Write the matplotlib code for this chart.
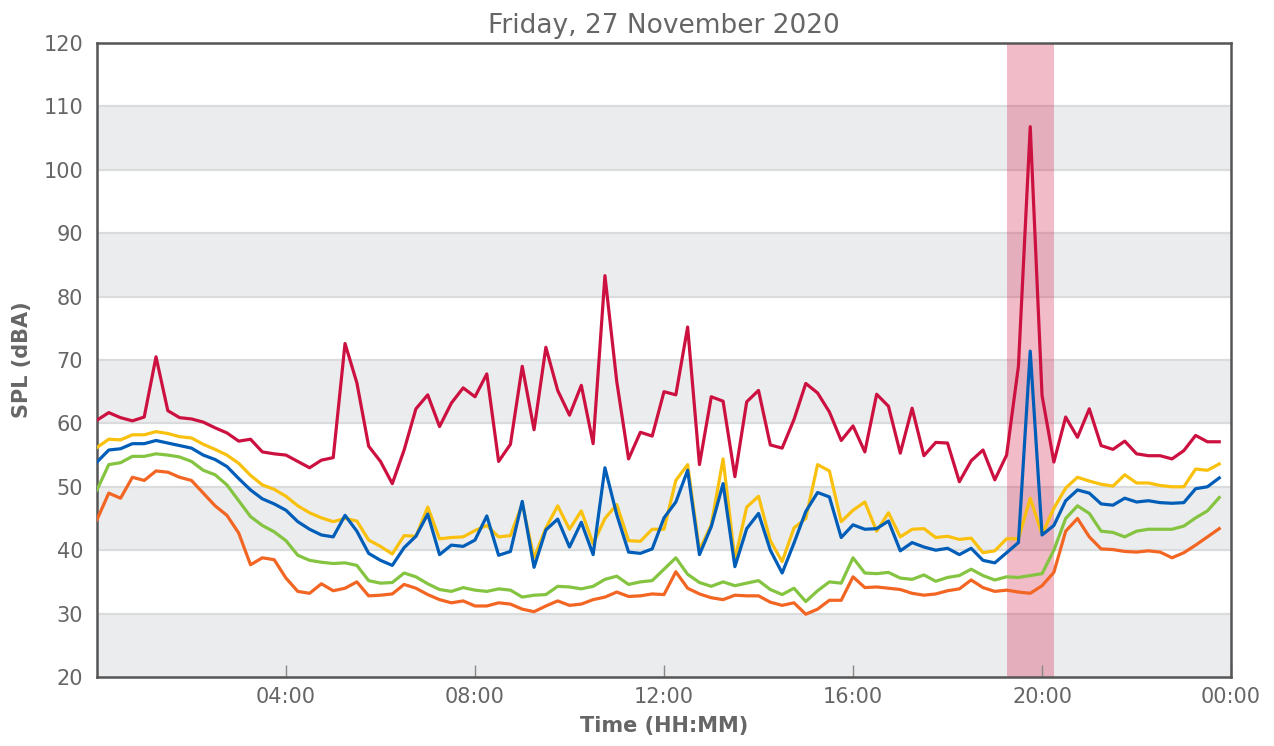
import numpy as np
import matplotlib
matplotlib.use('Agg')
import matplotlib.pyplot as plt

# 15-minute samples, 00:00 .. 23:45
lmax = [60.5, 61.7, 60.9, 60.4, 61.0, 70.5, 62.0, 60.9, 60.7, 60.2, 59.3, 58.5,
        57.2, 57.5, 55.5, 55.2, 55.0, 54.0, 53.0, 54.2, 54.6, 72.6, 66.4, 56.4,
        54.0, 50.5, 55.8, 62.3, 64.5, 59.5, 63.2, 65.6, 64.2, 67.8, 54.0, 56.7,
        69.0, 59.0, 72.0, 65.2, 61.3, 66.0, 56.8, 83.3, 66.6, 54.4, 58.6, 58.0,
        65.0, 64.5, 75.2, 53.5, 64.2, 63.5, 51.6, 63.4, 65.2, 56.6, 56.1, 60.6,
        66.3, 64.8, 61.8, 57.3, 59.6, 55.5, 64.6, 62.7, 55.3, 62.4, 54.9, 57.0,
        56.9, 50.8, 54.1, 55.8, 51.1, 55.0, 69.0, 106.8, 64.4, 53.9, 61.0, 57.8,
        62.3, 56.5, 55.9, 57.2, 55.2, 54.9, 54.9, 54.4, 55.7, 58.1, 57.1, 57.1]

l10 = [56.2, 57.5, 57.4, 58.2, 58.2, 58.7, 58.4, 57.9, 57.7, 56.7, 55.9, 55.0,
       53.7, 51.8, 50.3, 49.6, 48.5, 47.0, 45.9, 45.1, 44.5, 45.0, 44.6, 41.6,
       40.6, 39.4, 42.3, 42.2, 46.8, 41.8, 42.0, 42.1, 43.1, 43.9, 42.1, 42.3,
       47.3, 38.8, 43.5, 47.0, 43.3, 46.2, 41.0, 45.0, 47.2, 41.5, 41.4, 43.3,
       43.3, 51.0, 53.5, 40.0, 44.0, 54.4, 38.5, 46.8, 48.5, 41.5, 38.2, 43.5,
       45.0, 53.5, 52.5, 44.5, 46.3, 47.6, 43.0, 45.9, 42.1, 43.3, 43.4, 42.0,
       42.2, 41.7, 41.9, 39.6, 39.9, 41.8, 41.8, 48.2, 42.5, 46.6, 49.8, 51.5,
       50.9, 50.4, 50.1, 51.9, 50.6, 50.6, 50.2, 50.0, 50.0, 52.8, 52.6, 53.6]

leq = [53.9, 55.8, 56.0, 56.8, 56.8, 57.3, 56.9, 56.5, 56.1, 55.0, 54.3, 53.2,
       51.3, 49.5, 48.1, 47.3, 46.3, 44.5, 43.3, 42.4, 42.1, 45.5, 43.0, 39.5,
       38.4, 37.6, 40.4, 42.2, 45.7, 39.3, 40.8, 40.6, 41.6, 45.4, 39.2, 39.8,
       47.7, 37.3, 43.2, 44.9, 40.5, 44.4, 39.3, 53.0, 45.6, 39.7, 39.5, 40.2,
       45.1, 47.6, 52.6, 39.3, 43.7, 50.5, 37.4, 43.4, 45.8, 40.0, 36.4, 41.1,
       46.1, 49.1, 48.4, 42.0, 44.0, 43.3, 43.4, 44.6, 39.9, 41.2, 40.5, 40.0,
       40.3, 39.3, 40.3, 38.4, 38.0, 39.6, 41.2, 71.4, 42.4, 43.9, 47.8, 49.5,
       49.0, 47.3, 47.1, 48.2, 47.6, 47.8, 47.5, 47.4, 47.5, 49.7, 50.0, 51.4]

l50 = [49.5, 53.5, 53.8, 54.8, 54.8, 55.2, 55.0, 54.7, 54.0, 52.6, 51.9, 50.3,
       47.8, 45.3, 43.9, 42.9, 41.5, 39.2, 38.4, 38.1, 37.9, 38.0, 37.6, 35.2,
       34.8, 34.9, 36.4, 35.8, 34.7, 33.8, 33.5, 34.1, 33.7, 33.5, 33.9, 33.7,
       32.6, 32.9, 33.0, 34.3, 34.2, 33.9, 34.3, 35.4, 35.9, 34.6, 35.0, 35.2,
       37.0, 38.8, 36.2, 34.9, 34.3, 35.0, 34.4, 34.8, 35.2, 33.8, 33.0, 34.0,
       31.9, 33.6, 35.0, 34.8, 38.8, 36.4, 36.3, 36.5, 35.6, 35.4, 36.1, 35.1,
       35.7, 36.0, 37.0, 36.0, 35.3, 35.8, 35.7, 36.0, 36.3, 40.0, 45.0, 47.0,
       45.8, 43.0, 42.8, 42.1, 43.0, 43.3, 43.3, 43.3, 43.8, 45.1, 46.2, 48.3]

l90 = [44.8, 49.0, 48.2, 51.5, 51.0, 52.5, 52.3, 51.5, 51.0, 49.0, 47.0, 45.5,
       42.7, 37.7, 38.8, 38.5, 35.6, 33.5, 33.2, 34.7, 33.6, 34.0, 35.0, 32.8,
       32.9, 33.1, 34.6, 34.0, 33.0, 32.2, 31.7, 32.0, 31.2, 31.2, 31.7, 31.5,
       30.7, 30.3, 31.2, 32.0, 31.3, 31.5, 32.2, 32.6, 33.4, 32.7, 32.8, 33.1,
       33.0, 36.6, 34.0, 33.1, 32.5, 32.2, 32.9, 32.8, 32.8, 31.8, 31.3, 31.7,
       29.9, 30.7, 32.1, 32.1, 35.8, 34.1, 34.2, 34.0, 33.8, 33.2, 32.9, 33.1,
       33.6, 33.9, 35.3, 34.1, 33.5, 33.7, 33.4, 33.2, 34.4, 36.5, 43.0, 45.0,
       42.1, 40.2, 40.1, 39.8, 39.7, 39.9, 39.7, 38.8, 39.6, 40.8, 42.1, 43.4]

event_start = 19.25
event_end = 20.25

hours = np.arange(len(lmax)) * 0.25

fig = plt.figure(figsize=(12.74, 7.46), dpi=100)
ax = fig.add_axes([0.0761, 0.0925, 0.8902, 0.8499])

# alternating background bands
for lo in range(20, 120, 20):
    ax.axhspan(lo, lo + 10, color='#ebecee', zorder=0, lw=0)
for v in range(30, 120, 10):
    ax.axhline(v, color='#dadbdd', lw=1.6, zorder=1)

ax.axvspan(event_start, event_end, color='#d4204a', alpha=0.3, lw=0, zorder=1)

lw = 2.3
ax.plot(hours, l90, color='#f26522', lw=lw, zorder=3)
ax.plot(hours, l50, color='#84c441', lw=lw, zorder=3)
ax.plot(hours, l10, color='#f9c10e', lw=lw, zorder=3)
ax.plot(hours, leq, color='#005eb8', lw=lw, zorder=4)
ax.plot(hours, lmax, color='#cc1141', lw=lw, zorder=4)

ax.set_xlim(0, 24)
ax.set_ylim(20, 120)
ax.set_yticks(range(20, 121, 10))
ax.set_xticks([4, 8, 12, 16, 20, 24])
ax.set_xticklabels(['04:00', '08:00', '12:00', '16:00', '20:00', '00:00'])

grey = '#666666'
ax.tick_params(axis='x', direction='in', length=9, width=1, color='#888888',
               labelsize=15, labelcolor=grey, pad=7)
ax.tick_params(axis='y', length=0, labelsize=15, labelcolor=grey, pad=10)
for s in ax.spines.values():
    s.set_color('#555555')
    s.set_linewidth(1.8)

ax.set_title('Friday, 27 November 2020', fontsize=19, color=grey, pad=7)
ax.set_xlabel('Time (HH:MM)', fontsize=15, fontweight='bold', color=grey, labelpad=7)
ax.set_ylabel('SPL (dBA)', fontsize=15, fontweight='bold', color=grey, labelpad=8)

fig.savefig('out.png', dpi=100)
